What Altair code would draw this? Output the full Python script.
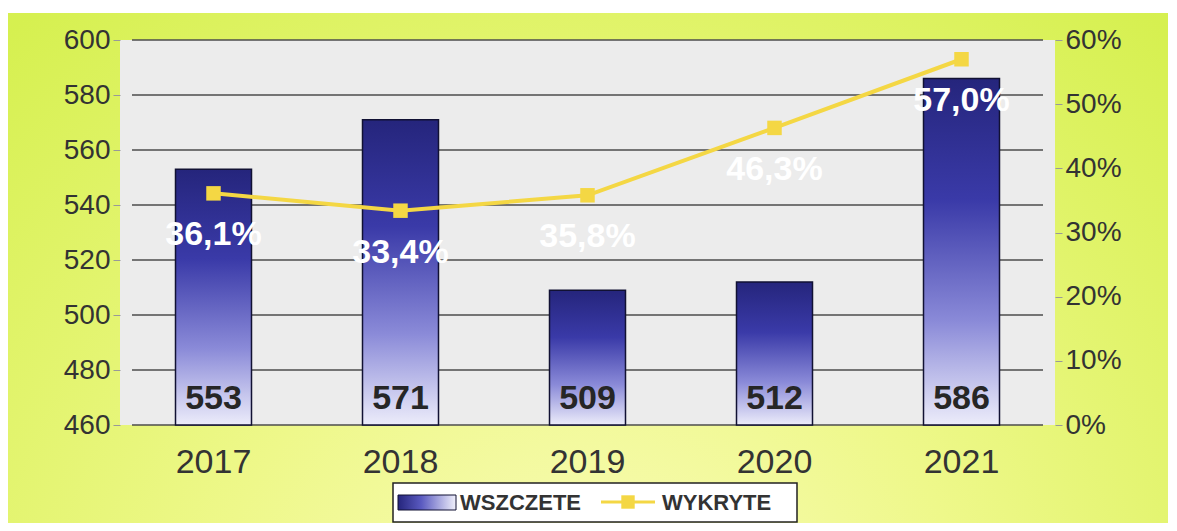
import altair as alt
import pandas as pd

years = ["2017", "2018", "2019", "2020", "2021"]
wszczete = [553, 571, 509, 512, 586]
wykryte = [0.361, 0.334, 0.358, 0.463, 0.570]
wykryte_labels = ["36,1%", "33,4%", "35,8%", "46,3%", "57,0%"]
left_ticks = [460, 480, 500, 520, 540, 560, 580, 600]
right_ticks = [0.0, 0.1, 0.2, 0.3, 0.4, 0.5, 0.6]
series_names = ["WSZCZETE", "WYKRYTE"]

FONT = "Liberation Sans"
W, H = 935, 385

df = pd.DataFrame({"year": years, "v": wszczete, "pct": wykryte, "lab": wykryte_labels,
                   "base": [460] * len(years)})
grid_df = pd.DataFrame({"v": left_ticks})
one = pd.DataFrame({"k": [0]})

x_enc = alt.X("year:N", sort=years, title=None,
              scale=alt.Scale(paddingInner=0, paddingOuter=0),
              axis=alt.Axis(labelFontSize=34, labelColor="#333333", labelFont=FONT,
                            ticks=False, domain=False, labelPadding=20, labelAngle=0,
                            zindex=2))

left_axis = alt.Axis(orient="left", values=left_ticks, labelFontSize=28, labelColor="#333333",
                     labelFont=FONT, domain=False, grid=False, tickColor="#999999",
                     tickSize=7, labelPadding=3, zindex=2)
yscale_left = alt.Scale(domain=[460, 600], nice=False, zero=False)

bg = alt.Chart(one).mark_rect(
    color=alt.Gradient(gradient="radial",
                       stops=[alt.GradientStop(color="#fbfcc0", offset=0),
                              alt.GradientStop(color="#eef88a", offset=0.45),
                              alt.GradientStop(color="#d6f050", offset=1)],
                       x1=0.5, y1=0.85, r1=0, x2=0.5, y2=0.85, r2=0.75)
).encode(x=alt.value(-112), x2=alt.value(1050), y=alt.value(-27), y2=alt.value(500))

plotbg = alt.Chart(one).mark_rect(color="#ececec").encode(
    x=alt.value(0), x2=alt.value(W), y=alt.value(0), y2=alt.value(H))

grid = alt.Chart(grid_df).mark_rule(color="#4d4d4d", strokeWidth=1.5).encode(
    y=alt.Y("v:Q", scale=yscale_left, axis=left_axis, title=None),
    x=alt.value(12), x2=alt.value(W - 12))

bar_grad = alt.Gradient(gradient="linear",
                        stops=[alt.GradientStop(color="#25257c", offset=0),
                               alt.GradientStop(color="#3a3aa8", offset=0.35),
                               alt.GradientStop(color="#8a8ad8", offset=0.7),
                               alt.GradientStop(color="#ececfa", offset=1)],
                        x1=0, x2=0, y1=0, y2=1)

bars = alt.Chart(df).mark_bar(color=bar_grad, stroke="#111133", strokeWidth=1.5, size=76).encode(
    x=x_enc,
    y=alt.Y("v:Q", scale=yscale_left, axis=left_axis, title=None),
    y2="base:Q")

bar_text = alt.Chart(df).mark_text(fontSize=34, fontWeight="bold", font=FONT, color="#262626",
                                   baseline="middle", dy=-26).encode(
    x=x_enc,
    y=alt.Y("base:Q", scale=yscale_left, axis=left_axis, title=None),
    text="v:Q")

left = alt.layer(grid, bars, bar_text)

right_axis = alt.Axis(orient="right", values=right_ticks, format=".0%", labelFontSize=28,
                      labelColor="#333333", labelFont=FONT, domain=False, grid=False,
                      tickColor="#999999", tickSize=7, labelPadding=3, zindex=2)
yscale_right = alt.Scale(domain=[0, 0.6], nice=False)
y_right = alt.Y("pct:Q", scale=yscale_right, axis=right_axis, title=None)

line = alt.Chart(df).mark_line(color="#f4d744", strokeWidth=4).encode(x=x_enc, y=y_right)
pts = alt.Chart(df).mark_point(shape="square", filled=True, size=210, color="#f4d744",
                               opacity=1).encode(x=x_enc, y=y_right)
pct_text = alt.Chart(df).mark_text(fontSize=34, fontWeight="bold", font=FONT, color="white",
                                   baseline="middle", dy=42).encode(
    x=x_enc, y=y_right, text="lab:N")

right = alt.layer(line, pts, pct_text)

# legend box
leg_box = alt.Chart(one).mark_rect(fill="white", stroke="#222222", strokeWidth=1.5).encode(
    x=alt.value(273), x2=alt.value(677), y=alt.value(443), y2=alt.value(482))
leg_swatch = alt.Chart(one).mark_rect(
    color=alt.Gradient(gradient="linear",
                       stops=[alt.GradientStop(color="#25257c", offset=0),
                              alt.GradientStop(color="#5a5ac0", offset=0.4),
                              alt.GradientStop(color="#f0f0fb", offset=1)],
                       x1=0, x2=1, y1=0, y2=0),
    stroke="#111133", strokeWidth=1).encode(
    x=alt.value(278), x2=alt.value(336), y=alt.value(455), y2=alt.value(470))
leg_t1 = alt.Chart(pd.DataFrame({"t": [series_names[0]]})).mark_text(
    fontSize=22, font=FONT, fontWeight="bold", color="#333333", align="left",
    baseline="middle").encode(x=alt.value(340), y=alt.value(463), text="t:N")
leg_line = alt.Chart(one).mark_rule(color="#f4d744", strokeWidth=3).encode(
    x=alt.value(481), x2=alt.value(535), y=alt.value(462))
leg_pt = alt.Chart(one).mark_point(shape="square", filled=True, size=180, color="#f4d744",
                                   opacity=1).encode(x=alt.value(508), y=alt.value(462))
leg_t2 = alt.Chart(pd.DataFrame({"t": [series_names[1]]})).mark_text(
    fontSize=22, font=FONT, fontWeight="bold", color="#333333", align="left",
    baseline="middle").encode(x=alt.value(542), y=alt.value(463), text="t:N")

chart = alt.layer(bg, plotbg, left, right, leg_box, leg_swatch, leg_t1, leg_line, leg_pt,
                  leg_t2).resolve_scale(y="independent").properties(
    width=W, height=H,
    autosize=alt.AutoSizeParams(type="none"),
    padding={"left": 112, "top": 32, "right": 113, "bottom": 98},
    background="white"
).configure_view(stroke=None)

chart.save("out.html", embed_options={"renderer": "svg", "actions": False})
